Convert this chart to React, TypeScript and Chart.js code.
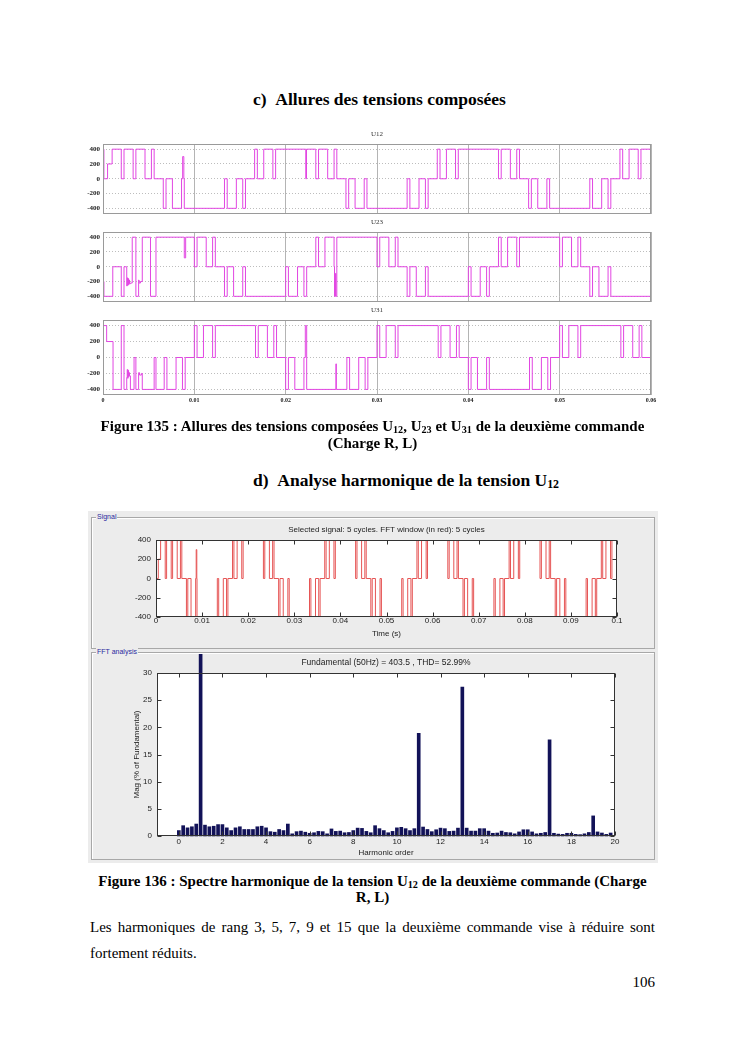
import React, { useEffect, useRef } from "react";
import { Chart, registerables } from "chart.js";

Chart.register(...registerables);

const SERIF = '"Liberation Serif", "Times New Roman", serif';
const SANS = '"Liberation Sans", Arial, sans-serif';

// ---------------- data: composed voltages (figure 135) ----------------
const waveYTicks = [-400, -200, 0, 200, 400];
const waveYLabels = ["-400", "-200", "0", "200", "400"];
const waveXTicks = [0, 0.01, 0.02, 0.03, 0.04, 0.05, 0.06];
const waveXLabels = ["0", "0.01", "0.02", "0.03", "0.04", "0.05", "0.06"];

const period = 0.02;
// switching instants inside one half-cycle (s from its start) and level of the positive half (V)
const halfCycleTimes = [0, 0.0003, 0.001, 0.002, 0.0023, 0.0067, 0.007, 0.008, 0.0087, 0.009];
const halfCycleLevels = [400, 0, 400, 0, 400, 0, 400, 0, 400, 0];

// start of a positive half-cycle in steady state (s)
const u12PositiveStart = 0.0166;
const u23PositiveStart = 0.0033;
const u31PositiveStart = 0.01;

// start-up transients [t (s), V] and instant where steady state is used
const u12Startup = [
  [0, 400], [0.0001, 0], [0.0005, 200], [0.001, 400], [0.002, 0], [0.0023, 400],
];
const u12SteadyFrom = 0.003;
const u12Spikes = [[0.00872, 300], [0.00885, 0], [0.0222, 0], [0.02228, 400]];

const u23Startup = [
  [0, -200], [0.0001, -400], [0.00107, 0], [0.002, -400], [0.0023, 0],
  [0.0026, -260], [0.00265, -150], [0.0027, -250], [0.00275, -160], [0.0028, -240],
  [0.00285, -180], [0.0029, -230], [0.003, -220], [0.0032, 400], [0.0036, -400],
  [0.0039, -180], [0.00395, -220], [0.0041, -200], [0.0043, 400], [0.0052, -400],
  [0.0058, 400], [0.0089, 120], [0.00905, 400],
];
const u23SteadyFrom = 0.0095;
const u23Spikes = [[0.02535, -400], [0.02545, -90], [0.0255, -400]];

const u31Startup = [
  [0, -200], [0.00005, 400], [0.0004, 200], [0.0011, -400], [0.002, 400], [0.0023, -400],
  [0.0026, -250], [0.00265, -150], [0.0027, -260], [0.00275, -160], [0.0028, -240],
  [0.00285, -190], [0.0029, -230], [0.003, -400], [0.0034, 0], [0.0036, -400],
  [0.0039, -190], [0.004, -220], [0.0042, -200], [0.0043, -400], [0.0056, 0], [0.0058, -400],
];
const u31SteadyFrom = 0.0065;
const u31Spikes = [[0.02215, 400], [0.0255, -80], [0.02555, -400]];

// ---------------- data: FFT signal panel ----------------
const signalXTicks = [0, 0.01, 0.02, 0.03, 0.04, 0.05, 0.06, 0.07, 0.08, 0.09, 0.1];
const signalXLabels = ["0", "0.01", "0.02", "0.03", "0.04", "0.05", "0.06", "0.07", "0.08", "0.09", "0.1"];
const signalYTicks = [-400, -200, 0, 200, 400];
const signalYLabels = ["-400", "-200", "0", "200", "400"];
const signalSpikes = [[0.00872, 300], [0.00885, 0]];

// ---------------- data: harmonic spectrum ----------------
const harmonicOrders = [
  0, 0.2, 0.4, 0.6, 0.8, 1, 1.2, 1.4, 1.6, 1.8,
  2, 2.2, 2.4, 2.6, 2.8, 3, 3.2, 3.4, 3.6, 3.8,
  4, 4.2, 4.4, 4.6, 4.8, 5, 5.2, 5.4, 5.6, 5.8,
  6, 6.2, 6.4, 6.6, 6.8, 7, 7.2, 7.4, 7.6, 7.8,
  8, 8.2, 8.4, 8.6, 8.8, 9, 9.2, 9.4, 9.6, 9.8,
  10, 10.2, 10.4, 10.6, 10.8, 11, 11.2, 11.4, 11.6, 11.8,
  12, 12.2, 12.4, 12.6, 12.8, 13, 13.2, 13.4, 13.6, 13.8,
  14, 14.2, 14.4, 14.6, 14.8, 15, 15.2, 15.4, 15.6, 15.8,
  16, 16.2, 16.4, 16.6, 16.8, 17, 17.2, 17.4, 17.6, 17.8,
  18, 18.2, 18.4, 18.6, 18.8, 19, 19.2, 19.4, 19.6, 19.8,
];
const harmonicMag = [
  1.0, 1.9, 1.5, 1.7, 2.2, 100, 2.0, 1.7, 1.8, 2.1,
  2.1, 1.5, 1.0, 1.5, 1.7, 1.2, 1.2, 1.2, 1.7, 1.8,
  1.5, 0.8, 0.7, 1.2, 1.0, 2.2, 0.4, 0.8, 0.9, 0.7,
  0.5, 0.6, 0.85, 0.8, 0.4, 1.3, 0.85, 0.9, 0.6, 0.65,
  1.0, 1.45, 1.4, 0.85, 0.6, 1.9, 1.35, 1.0, 0.6, 0.85,
  1.5, 1.6, 1.35, 1.0, 1.35, 18.9, 1.65, 1.2, 0.8, 1.15,
  1.45, 1.35, 0.85, 0.9, 1.45, 27.4, 1.45, 0.9, 0.9, 1.35,
  1.35, 0.9, 0.5, 0.55, 0.9, 0.65, 0.6, 0.4, 0.75, 1.15,
  1.15, 0.75, 0.4, 0.5, 0.65, 17.7, 0.5, 0.35, 0.3, 0.5,
  0.5, 0.3, 0.25, 0.4, 0.65, 3.7, 0.75, 0.55, 0.3, 0.55,
];
const fftXTicks = [0, 2, 4, 6, 8, 10, 12, 14, 16, 18, 20];
const fftXLabels = ["0", "2", "4", "6", "8", "10", "12", "14", "16", "18", "20"];
const fftYTicks = [0, 5, 10, 15, 20, 25, 30];
const fftYLabels = ["0", "5", "10", "15", "20", "25", "30"];

// ---------------- helpers ----------------
type P = { x: number; y: number };

function buildWave(startup: number[][], steadyFrom: number, posStart: number, spikes: number[][], tEnd: number): P[] {
  const pts: P[] = startup.map(([x, y]) => ({ x, y }));
  const steady: P[] = [];
  for (let k = -6; ; k++) {
    const s = posStart + (k * period) / 2;
    if (s >= tEnd) break;
    const sign = k % 2 === 0 ? 1 : -1;
    halfCycleTimes.forEach((dt, i) => steady.push({ x: s + dt, y: sign * halfCycleLevels[i] || 0 }));
  }
  const merged = [
    ...steady.filter((p) => p.x >= steadyFrom && p.x < tEnd),
    ...spikes.map(([x, y]) => ({ x, y })),
  ].sort((a, b) => a.x - b.x);
  pts.push(...merged);
  pts.push({ x: tEnd, y: pts[pts.length - 1].y });
  return pts;
}

const frameBox = {
  id: "frameBox",
  beforeDraw(chart: any, _a: any, o: any) {
    if (!o || !o.fill) return;
    const { ctx, chartArea: c } = chart;
    ctx.save();
    ctx.fillStyle = o.fill;
    ctx.fillRect(c.left, c.top, c.right - c.left, c.bottom - c.top);
    ctx.restore();
  },
  afterDraw(chart: any, _a: any, o: any) {
    if (!o) return;
    const { ctx, chartArea: c } = chart;
    const L = Math.round(c.left) + 0.5, T = Math.round(c.top) + 0.5;
    const R = Math.round(c.right) - 0.5, B = Math.round(c.bottom) - 0.5;
    ctx.save();
    ctx.strokeStyle = o.color || "#000";
    ctx.lineWidth = 1;
    ctx.strokeRect(L, T, R - L, B - T);
    if (o.tickLen) {
      const len = o.tickLen;
      ctx.beginPath();
      chart.scales.x.ticks.forEach((t: any) => {
        const px = Math.round(chart.scales.x.getPixelForValue(t.value)) + 0.5;
        ctx.moveTo(px, B); ctx.lineTo(px, B - len);
        ctx.moveTo(px, T); ctx.lineTo(px, T + len);
      });
      chart.scales.y.ticks.forEach((t: any) => {
        const py = Math.round(chart.scales.y.getPixelForValue(t.value)) + 0.5;
        ctx.moveTo(L, py); ctx.lineTo(L + len, py);
        ctx.moveTo(R, py); ctx.lineTo(R - len, py);
      });
      ctx.stroke();
    }
    ctx.restore();
  },
};

function setTicks(values: number[]) {
  return (s: any) => {
    s.ticks = values.map((v) => ({ value: v }));
  };
}

function waveConfig(points: P[], title: string, showX: boolean): any {
  return {
    type: "line",
    data: {
      datasets: [
        {
          data: points,
          stepped: true,
          borderColor: "rgb(226, 70, 226)",
          borderWidth: 1,
          pointRadius: 0,
          fill: false,
        },
      ],
    },
    options: {
      animation: false,
      responsive: false,
      devicePixelRatio: 1,
      layout: { padding: { top: 0, right: 9, bottom: showX ? 0 : 2, left: 0 } },
      plugins: {
        legend: { display: false },
        tooltip: { enabled: false },
        title: {
          display: true,
          text: title,
          fullSize: false,
          color: "#333",
          font: { family: SERIF, size: 7, lineHeight: 1, weight: "normal" },
          padding: { top: 5, bottom: 6 },
        },
        frameBox: { color: "#9a9a9a" },
      },
      scales: {
        x: {
          type: "linear",
          min: 0,
          max: 0.06,
          afterBuildTicks: setTicks(waveXTicks),
          afterFit: (s: any) => { s.height = showX ? 11 : 0; },
          ticks: {
            display: showX,
            autoSkip: false,
            maxRotation: 0,
            padding: 2,
            color: "#222",
            font: { family: SERIF, size: 6, weight: "bold", lineHeight: 1 },
            callback: (_v: any, i: number) => waveXLabels[i],
          },
          grid: { color: "#b4b4b4", lineWidth: 1, drawTicks: false },
          border: { display: false },
        },
        y: {
          min: -470,
          max: 470,
          afterBuildTicks: setTicks(waveYTicks),
          afterFit: (s: any) => { s.width = 25; },
          ticks: {
            autoSkip: false,
            padding: 3,
            color: "#222",
            font: { family: SERIF, size: 7, weight: "bold", lineHeight: 1 },
            callback: (_v: any, i: number) => waveYLabels[i],
          },
          grid: { color: "#bdbdbd", lineWidth: 1, drawTicks: false },
          border: { display: false, dash: [1, 2] },
        },
      },
    },
    plugins: [frameBox],
  };
}

function signalConfig(): any {
  const pts = buildWave(u12Startup, u12SteadyFrom, u12PositiveStart, signalSpikes, 0.1);
  return {
    type: "line",
    data: {
      datasets: [
        {
          data: pts,
          stepped: true,
          borderColor: "rgb(230, 85, 85)",
          borderWidth: 1,
          pointRadius: 0,
          fill: false,
        },
      ],
    },
    options: {
      animation: false,
      responsive: false,
      devicePixelRatio: 1,
      layout: { padding: { top: 0, right: 33, bottom: 0, left: 0 } },
      plugins: {
        legend: { display: false },
        tooltip: { enabled: false },
        title: {
          display: true,
          text: "Selected signal: 5 cycles. FFT window (in red): 5 cycles",
          fullSize: false,
          color: "#222",
          font: { family: SANS, size: 8, lineHeight: 1, weight: "normal" },
          padding: { top: 6, bottom: 6 },
        },
        frameBox: { color: "#333", fill: "#ffffff", tickLen: 4 },
      },
      scales: {
        x: {
          type: "linear",
          min: 0,
          max: 0.1,
          afterBuildTicks: setTicks(signalXTicks),
          afterFit: (s: any) => { s.height = 27; },
          ticks: {
            autoSkip: false,
            maxRotation: 0,
            padding: 0,
            color: "#222",
            font: { family: SANS, size: 8, lineHeight: 1 },
            callback: (_v: any, i: number) => signalXLabels[i],
          },
          title: {
            display: true,
            text: "Time (s)",
            color: "#222",
            font: { family: SANS, size: 8, lineHeight: 1 },
            padding: { top: 0, bottom: 6 },
          },
          grid: { display: false, drawTicks: false },
          border: { display: false },
        },
        y: {
          min: -400,
          max: 400,
          afterBuildTicks: setTicks(signalYTicks),
          afterFit: (s: any) => { s.width = 56; },
          ticks: {
            autoSkip: false,
            padding: 5,
            color: "#222",
            font: { family: SANS, size: 8, lineHeight: 1 },
            callback: (_v: any, i: number) => signalYLabels[i],
          },
          grid: { display: false, drawTicks: false },
          border: { display: false },
        },
      },
    },
    plugins: [frameBox],
  };
}

function fftConfig(): any {
  return {
    type: "bar",
    data: {
      datasets: [
        {
          data: harmonicOrders.map((h, i) => ({ x: h, y: harmonicMag[i] })),
          backgroundColor: "#121258",
          borderWidth: 0,
          barThickness: 3,
          clip: false,
        },
      ],
    },
    options: {
      animation: false,
      responsive: false,
      devicePixelRatio: 1,
      layout: { padding: { top: 0, right: 35, bottom: 0, left: 0 } },
      plugins: {
        legend: { display: false },
        tooltip: { enabled: false },
        title: {
          display: true,
          text: "Fundamental (50Hz) = 403.5 , THD= 52.99%",
          fullSize: false,
          color: "#222",
          font: { family: SANS, size: 8.5, lineHeight: 1, weight: "normal" },
          padding: { top: 4, bottom: 6.5 },
        },
        frameBox: { color: "#333", fill: "#ffffff", tickLen: 4 },
      },
      scales: {
        x: {
          type: "linear",
          min: -1,
          max: 20,
          offset: false,
          afterBuildTicks: setTicks(fftXTicks),
          afterFit: (s: any) => { s.height = 24; },
          ticks: {
            autoSkip: false,
            maxRotation: 0,
            padding: 2,
            color: "#222",
            font: { family: SANS, size: 8, lineHeight: 1 },
            callback: (_v: any, i: number) => fftXLabels[i],
          },
          title: {
            display: true,
            text: "Harmonic order",
            color: "#222",
            font: { family: SANS, size: 8, lineHeight: 1 },
            padding: { top: 0, bottom: 3 },
          },
          grid: { display: false, drawTicks: false, offset: false },
          border: { display: false },
        },
        y: {
          min: 0,
          max: 30,
          afterBuildTicks: setTicks(fftYTicks),
          afterFit: (s: any) => { s.width = 57; },
          ticks: {
            autoSkip: false,
            padding: 5,
            color: "#222",
            font: { family: SANS, size: 8, lineHeight: 1 },
            callback: (_v: any, i: number) => fftYLabels[i],
          },
          title: {
            display: true,
            text: "Mag (% of Fundamental)",
            color: "#222",
            font: { family: SANS, size: 8, lineHeight: 1 },
            padding: { top: 33, bottom: 0 },
          },
          grid: { display: false, drawTicks: false },
          border: { display: false },
        },
      },
    },
    plugins: [frameBox],
  };
}

function ChartBox(props: { left: number; top: number; width: number; height: number; make: () => any }) {
  const ref = useRef<HTMLCanvasElement>(null);
  useEffect(() => {
    const chart = new Chart(ref.current as HTMLCanvasElement, props.make());
    return () => chart.destroy();
  }, []);
  return (
    <canvas
      ref={ref}
      width={props.width}
      height={props.height}
      style={{ position: "absolute", left: props.left, top: props.top, width: props.width, height: props.height }}
    />
  );
}

const sub: React.CSSProperties = { fontSize: "0.68em", position: "relative", top: "0.22em" };

function Text(props: { top: number; size: number; bold?: boolean; left?: number; width?: number; align?: any; children: any; style?: React.CSSProperties }) {
  return (
    <div
      style={{
        position: "absolute",
        top: props.top,
        left: props.left ?? 90,
        width: props.width,
        fontFamily: SERIF,
        fontSize: props.size,
        fontWeight: props.bold ? "bold" : "normal",
        lineHeight: 1,
        whiteSpace: "nowrap",
        textAlign: props.align || "left",
        color: "#000",
        ...props.style,
      }}
    >
      {props.children}
    </div>
  );
}

export default function App() {
  const u12 = buildWave(u12Startup, u12SteadyFrom, u12PositiveStart, u12Spikes, 0.06);
  const u23 = buildWave(u23Startup, u23SteadyFrom, u23PositiveStart, u23Spikes, 0.06);
  const u31 = buildWave(u31Startup, u31SteadyFrom, u31PositiveStart, u31Spikes, 0.06);

  return (
    <div style={{ position: "absolute", left: 0, top: 0, width: 745, height: 1053, background: "#fff", overflow: "hidden" }}>
      <Text top={90.5} left={253} size={17.5} bold>c)&nbsp;&nbsp;Allures des tensions composées</Text>

      <ChartBox left={78} top={126} width={582} height={94} make={() => waveConfig(u12, "U12", false)} />
      <ChartBox left={78} top={214} width={582} height={94} make={() => waveConfig(u23, "U23", false)} />
      <ChartBox left={78} top={302} width={582} height={104} make={() => waveConfig(u31, "U31", true)} />

      <Text top={419} left={90} width={565} align="center" size={15} bold>
        Figure 135 : Allures des tensions composées U<span style={sub}>12</span>, U<span style={sub}>23</span> et U<span style={sub}>31</span> de la deuxième commande
      </Text>
      <Text top={436} left={90} width={565} align="center" size={15} bold>(Charge R, L)</Text>

      <Text top={471.5} left={253} size={17.5} bold>
        d)&nbsp;&nbsp;Analyse harmonique de la tension U<span style={sub}>12</span>
      </Text>

      {/* MATLAB powergui FFT window */}
      <div style={{ position: "absolute", left: 88, top: 511, width: 570, height: 352, background: "#ececec" }} />
      <div style={{ position: "absolute", left: 91, top: 517, width: 562, height: 130, border: "1px solid #a8a8a8", boxShadow: "inset 1px 1px 0 #fff" }} />
      <div style={{ position: "absolute", left: 96, top: 513, fontFamily: SANS, fontSize: 7, lineHeight: "8px", color: "#2a2aa0", background: "#ececec", padding: "0 1px" }}>Signal</div>
      <div style={{ position: "absolute", left: 91, top: 652, width: 562, height: 206, border: "1px solid #a8a8a8", boxShadow: "inset 1px 1px 0 #fff" }} />
      <div style={{ position: "absolute", left: 96, top: 648, fontFamily: SANS, fontSize: 7, lineHeight: "8px", color: "#2a2aa0", background: "#ececec", padding: "0 1px" }}>FFT analysis</div>

      <ChartBox left={100} top={520} width={550} height={124} make={signalConfig} />
      <ChartBox left={100} top={654} width={550} height={206} make={fftConfig} />

      <Text top={874} left={90} width={565} align="center" size={15} bold>
        Figure 136 : Spectre harmonique de la tension U<span style={sub}>12</span> de la deuxième commande (Charge
      </Text>
      <Text top={890} left={90} width={565} align="center" size={15} bold>R, L)</Text>

      <div
        style={{
          position: "absolute",
          top: 920,
          left: 90,
          width: 565,
          fontFamily: SERIF,
          fontSize: 15,
          lineHeight: 1,
          textAlign: "justify",
          textAlignLast: "justify",
          color: "#000",
        }}
      >
        Les harmoniques de rang 3, 5, 7, 9 et 15 que la deuxième commande vise à réduire sont
      </div>
      <Text top={946} left={90} size={15}>fortement réduits.</Text>
      <Text top={975} left={90} width={565} align="right" size={15}>106</Text>
    </div>
  );
}
